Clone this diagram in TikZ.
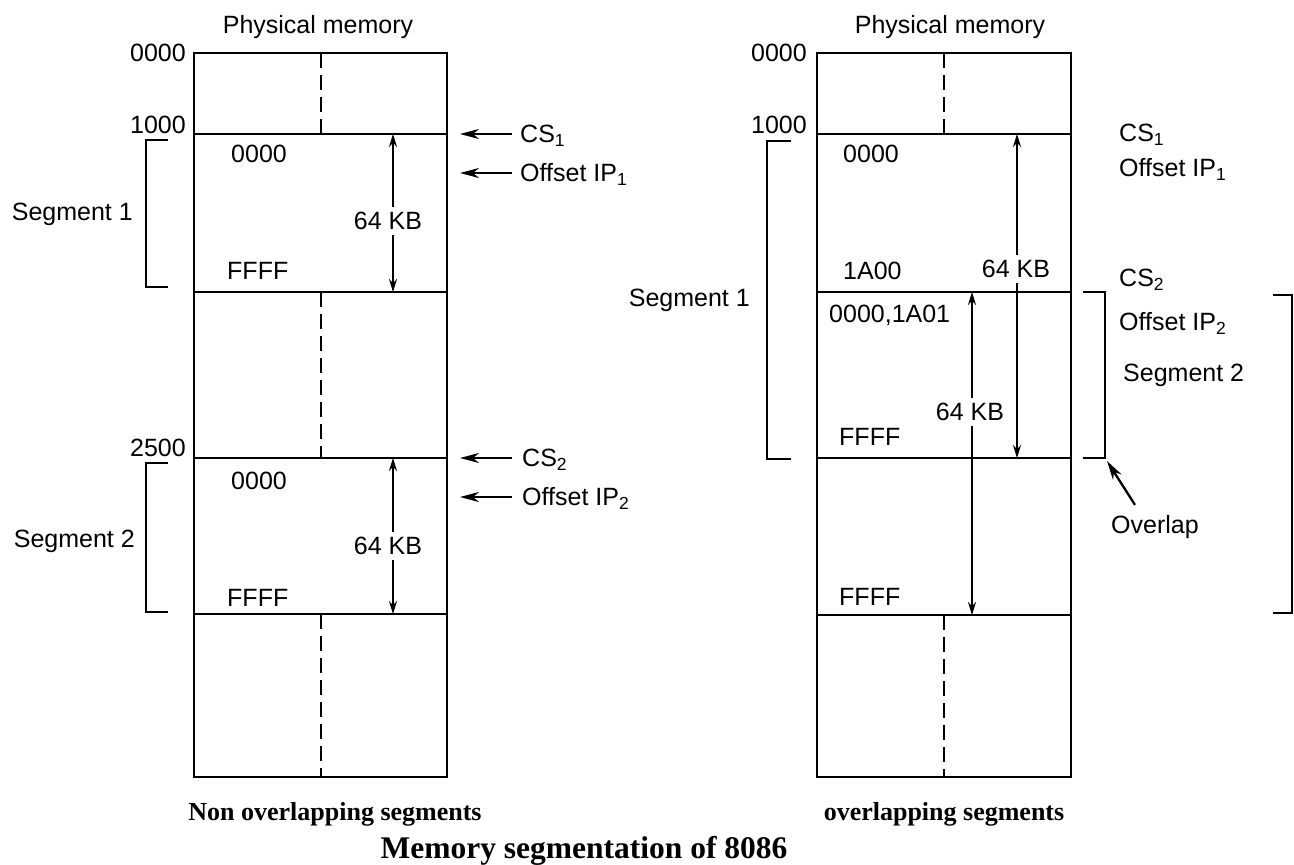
\documentclass[tikz,border=0pt]{standalone}
\usepackage{fontspec}
\setmainfont{Liberation Sans}
\newfontfamily\captionserif{Liberation Serif}
\usetikzlibrary{arrows.meta}

\tikzset{
  wall/.style={line width=2.8pt},
  divider/.style={line width=2.2pt, dash pattern=on 15pt off 7pt},
  bracket/.style={line width=2.5pt},
  lbl/.style={font=\fontsize{25}{29}\selectfont, inner sep=0pt, text height=17.9pt, text depth=0pt},
  gaplbl/.style={lbl, inner xsep=0pt, inner ysep=5pt},
  sizetip/.style={line width=2pt, -{Stealth[length=13pt,width=8pt]}},
  ptr/.style={line width=2.3pt, -{Stealth[length=19pt,width=10pt,inset=6pt]}},
  caption/.style={font=\captionserif\bfseries\fontsize{26}{30}\selectfont, inner sep=0pt, text height=17.2pt, text depth=0pt},
  title/.style={font=\captionserif\bfseries\fontsize{31.5}{36}\selectfont, inner sep=0pt, text height=20.9pt, text depth=0pt},
}

\begin{document}
\begin{tikzpicture}[x=1pt,y=-1pt]
\useasboundingbox (0,0) rectangle (1294,865);
\fill[white] (0,0) rectangle (1294,865);

% ---------------- non-overlapping segments ----------------
\draw[wall] (194,53) rectangle (447,777);
\foreach \yy in {134,292,458,614} \draw[wall] (194,\yy) -- (447,\yy);
\draw[divider] (321,53) -- (321,134);
\draw[divider] (321,292) -- (321,458);
\draw[divider] (321,614) -- (321,777);

\node[lbl] (pmL) at (318,25) {Physical memory};
\node[lbl, anchor=east] (aL0) at (186,53) {0000};
\node[lbl, anchor=east] (aL1) at (186,125) {1000};
\node[lbl, anchor=east] (aL2) at (186,448) {2500};

\node[lbl, anchor=west] (s1lo) at (231,154) {0000};
\node[lbl, anchor=west] (s1hi) at (227,271) {FFFF};
\node[lbl, anchor=west] (s2lo) at (231,481) {0000};
\node[lbl, anchor=west] (s2hi) at (227,598) {FFFF};

% segment sizes
\coordinate (l1top) at (393,134);
\coordinate (l1bot) at (393,292);
\node[gaplbl] (l1kb) at (388,221) {64 KB};
\draw[sizetip] (l1kb.north -| l1top) -- (l1top);
\draw[sizetip] (l1kb.south -| l1bot) -- (l1bot);

\coordinate (l2top) at (393,458);
\coordinate (l2bot) at (393,614);
\node[gaplbl] (l2kb) at (388,546) {64 KB};
\draw[sizetip] (l2kb.north -| l2top) -- (l2top);
\draw[sizetip] (l2kb.south -| l2bot) -- (l2bot);

% segment brackets
\node[lbl, anchor=east] (seg1L) at (133,212) {Segment 1};
\node[lbl, anchor=east] (seg2L) at (135,539) {Segment 2};
\draw[bracket] (168,140) -- (146,140) -- (146,287) -- (168,287);
\draw[bracket] (168,463) -- (146,463) -- (146,612) -- (168,612);

% register pointers
\node[lbl, anchor=west] (cs1L) at (520,134) {CS\textsubscript{1}};
\node[lbl, anchor=west] (ip1L) at (520,173) {Offset IP\textsubscript{1}};
\node[lbl, anchor=west] (cs2L) at (522,458) {CS\textsubscript{2}};
\node[lbl, anchor=west] (ip2L) at (522,497) {Offset IP\textsubscript{2}};
\coordinate (cs1tip) at (460,134);
\coordinate (ip1tip) at (460,173);
\coordinate (cs2tip) at (460,458);
\coordinate (ip2tip) at (460,497);
\draw[ptr] ([xshift=-8pt]cs1L.west) -- (cs1tip);
\draw[ptr] ([xshift=-8pt]ip1L.west) -- (ip1tip);
\draw[ptr] ([xshift=-10pt]cs2L.west) -- (cs2tip);
\draw[ptr] ([xshift=-10pt]ip2L.west) -- (ip2tip);

% ---------------- overlapping segments ----------------
\draw[wall] (817,53) rectangle (1071,777);
\foreach \yy in {134,292,458,615} \draw[wall] (817,\yy) -- (1071,\yy);
\draw[divider] (944,53) -- (944,134);
\draw[divider] (944,615) -- (944,777);

\node[lbl] (pmR) at (950,25) {Physical memory};
\node[lbl, anchor=east] (aR0) at (807,53) {0000};
\node[lbl, anchor=east] (aR1) at (807,125) {1000};

\node[lbl, anchor=west] (r1lo) at (843,154) {0000};
\node[lbl, anchor=west] (r1hi) at (843,271) {1A00};
\node[lbl, anchor=west] (r2lo) at (829,314) {0000,1A01};
\node[lbl, anchor=west] (r1end) at (839,437) {FFFF};
\node[lbl, anchor=west] (r2end) at (839,597) {FFFF};

% segment sizes
\coordinate (r1top) at (1017,134);
\coordinate (r1bot) at (1017,458);
\node[gaplbl] (r1kb) at (1016,269) {64 KB};
\draw[sizetip] (r1kb.north -| r1top) -- (r1top);
\draw[sizetip] (r1kb.south -| r1bot) -- (r1bot);

\coordinate (r2top) at (972,292);
\coordinate (r2bot) at (972,615);
\node[gaplbl] (r2kb) at (970,412) {64 KB};
\draw[sizetip] (r2kb.north -| r2top) -- (r2top);
\draw[sizetip] (r2kb.south -| r2bot) -- (r2bot);

% segment brackets
\node[lbl, anchor=east] (seg1R) at (750,298) {Segment 1};
\draw[bracket] (791,141) -- (767,141) -- (767,459) -- (791,459);
\draw[bracket] (1083,292) -- (1105,292) -- (1105,458) -- (1083,458);
\draw[bracket] (1273,295) -- (1292,295) -- (1292,613) -- (1273,613);

% register labels
\node[lbl, anchor=west] (cs1R) at (1119,133) {CS\textsubscript{1}};
\node[lbl, anchor=west] (ip1R) at (1119,168) {Offset IP\textsubscript{1}};
\node[lbl, anchor=west] (cs2R) at (1119,278) {CS\textsubscript{2}};
\node[lbl, anchor=west] (ip2R) at (1119,322) {Offset IP\textsubscript{2}};
\node[lbl, anchor=west] (seg2R) at (1123,373) {Segment 2};

% overlap marker
\node[lbl, anchor=west] (ovl) at (1111,525) {Overlap};
\coordinate (ovtip) at (1107,461);
\draw[ptr] ([shift={(-20,-11)}]ovl.north) -- (ovtip);

% ---------------- captions ----------------
\node[caption] (capL) at (335,812) {Non overlapping segments};
\node[caption] (capR) at (944,812) {overlapping segments};
\node[title] (capT) at (584,848) {Memory segmentation of 8086};
\end{tikzpicture}
\end{document}
